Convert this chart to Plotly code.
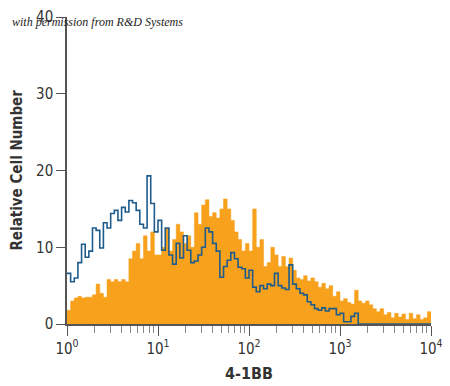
import numpy as np
import plotly.graph_objects as go

# 100 log-spaced bins from 10^0 to 10^4
bin_edges = np.logspace(0, 4, 101)

isotype_counts = [  # blue outline
    6.6, 5.5, 6.0, 8.0, 10.4, 8.7, 9.5, 12.5, 12.2, 9.9,
    13.2, 12.5, 14.4, 14.8, 13.5, 15.2, 14.6, 16.1, 15.8, 14.8,
    13.0, 12.5, 19.3, 15.7, 12.0, 13.5, 9.6, 12.5, 9.0, 7.8,
    10.5, 8.6, 11.5, 9.6, 8.0, 8.2, 9.0, 10.0, 12.5, 12.0,
    10.5, 9.5, 6.1, 7.5, 8.3, 9.3, 8.5, 7.4, 7.2, 6.0,
    7.0, 4.8, 4.2, 5.0, 4.6, 5.2, 5.0, 6.6, 5.0, 4.7,
    4.5, 7.7, 5.2, 4.6, 4.0, 3.8, 2.9, 2.5, 2.0, 1.8,
    2.1, 1.7, 2.0, 2.0, 1.2, 1.4, 0.3, 0.3, 1.0, 1.4,
    0, 0, 0, 0, 0, 0, 0, 0, 0, 0,
    0, 0, 0, 0, 0, 0, 0, 0, 0, 0,
]

stained_counts = [  # orange filled
    1.8, 3.0, 3.4, 3.6, 3.4, 3.5, 3.5, 3.8, 5.2, 4.0,
    3.5, 5.8, 5.5, 5.8, 5.5, 5.8, 5.5, 8.5, 9.5, 10.5,
    8.5, 11.5, 9.5, 12.0, 9.0, 9.0, 10.0, 12.5, 9.5, 11.0,
    13.0, 12.0, 10.5, 11.5, 10.0, 14.5, 13.0, 15.5, 16.2, 14.0,
    14.5, 13.8, 15.0, 16.3, 15.0, 13.5, 12.0, 11.0, 9.5, 10.5,
    9.5, 15.0, 10.0, 11.0, 7.5, 8.0, 10.0, 9.0, 7.5, 8.8,
    7.5, 8.6, 7.0, 6.0, 5.8, 6.3, 5.6, 6.0, 5.5, 4.8,
    5.3, 4.6, 5.0, 3.6, 4.2, 3.0, 3.3, 2.8, 2.6, 4.4,
    3.0, 2.7, 3.0, 2.5, 2.0, 1.6, 2.0, 1.2, 1.5, 0.8,
    1.4, 0.9, 1.3, 0.6, 1.4, 0.7, 1.2, 0.6, 0.8, 1.6,
]

x_tick_vals = [1, 10, 100, 1000, 10000]
x_tick_text = ["10<sup>0</sup>", "10<sup>1</sup>", "10<sup>2</sup>", "10<sup>3</sup>", "10<sup>4</sup>"]
y_tick_vals = [0, 10, 20, 30, 40]

x_steps = list(bin_edges)
orange_y = stained_counts + [stained_counts[-1]]
blue_y = isotype_counts + [isotype_counts[-1]]

FONT = "Liberation Sans Narrow, DejaVu Sans Condensed, Arial Narrow, sans-serif"

fig = go.Figure()
fig.add_trace(go.Scatter(
    x=x_steps, y=orange_y, mode="lines", line=dict(shape="hv", color="#F7A11C", width=0.5),
    fill="tozeroy", fillcolor="#F7A11C", hoverinfo="skip", showlegend=False,
))
fig.add_trace(go.Scatter(
    x=x_steps, y=blue_y, mode="lines", line=dict(shape="hv", color="#1E5C8C", width=1.6),
    hoverinfo="skip", showlegend=False,
))

# page body adds an 8px offset; figure is sized so the plot area lands where the reference has it
fig.update_layout(
    width=442, height=378,
    margin=dict(l=59, r=19, t=9, b=62),
    paper_bgcolor="white", plot_bgcolor="white",
    font=dict(family=FONT, size=14, color="#333333"),
    xaxis=dict(
        type="log", range=[0, 4], showgrid=False, zeroline=False, automargin=False,
        showline=True, linecolor="#555555", linewidth=1.5,
        tickmode="array", tickvals=x_tick_vals, ticktext=x_tick_text,
        ticks="outside", ticklen=10, tickwidth=1.2, tickcolor="#555555",
        minor=dict(ticks="outside", ticklen=7, tickwidth=1, tickcolor="#888888",
                   tickvals=[m * 10 ** d for d in range(4) for m in range(2, 10)]),
        tickfont=dict(size=15, color="#333333"),
    ),
    yaxis=dict(
        range=[0, 40], showgrid=False, zeroline=False, automargin=False,
        showline=True, linecolor="#555555", linewidth=1.5,
        tickmode="array", tickvals=y_tick_vals,
        ticks="outside", ticklen=9, tickwidth=1.2, tickcolor="#555555",
        tickfont=dict(size=15, color="#333333"),
    ),
    annotations=[
        dict(text="<i>with permission from R&amp;D Systems</i>", xref="paper", yref="paper",
             x=-0.157, y=1.012, xanchor="left", yanchor="top", showarrow=False,
             font=dict(family="Liberation Serif, DejaVu Serif, serif", size=12, color="#222222")),
        dict(text="<b>4-1BB</b>", xref="paper", yref="paper", x=0.5, y=-0.125,
             xanchor="center", yanchor="top", showarrow=False,
             font=dict(family=FONT, size=16, color="#333333")),
        dict(text="<b>Relative Cell Number</b>", xref="paper", yref="paper", x=-0.14, y=0.5,
             xanchor="center", yanchor="middle", showarrow=False, textangle=-90,
             font=dict(family=FONT, size=15, color="#333333")),
    ],
)

fig.write_html("out.html")
